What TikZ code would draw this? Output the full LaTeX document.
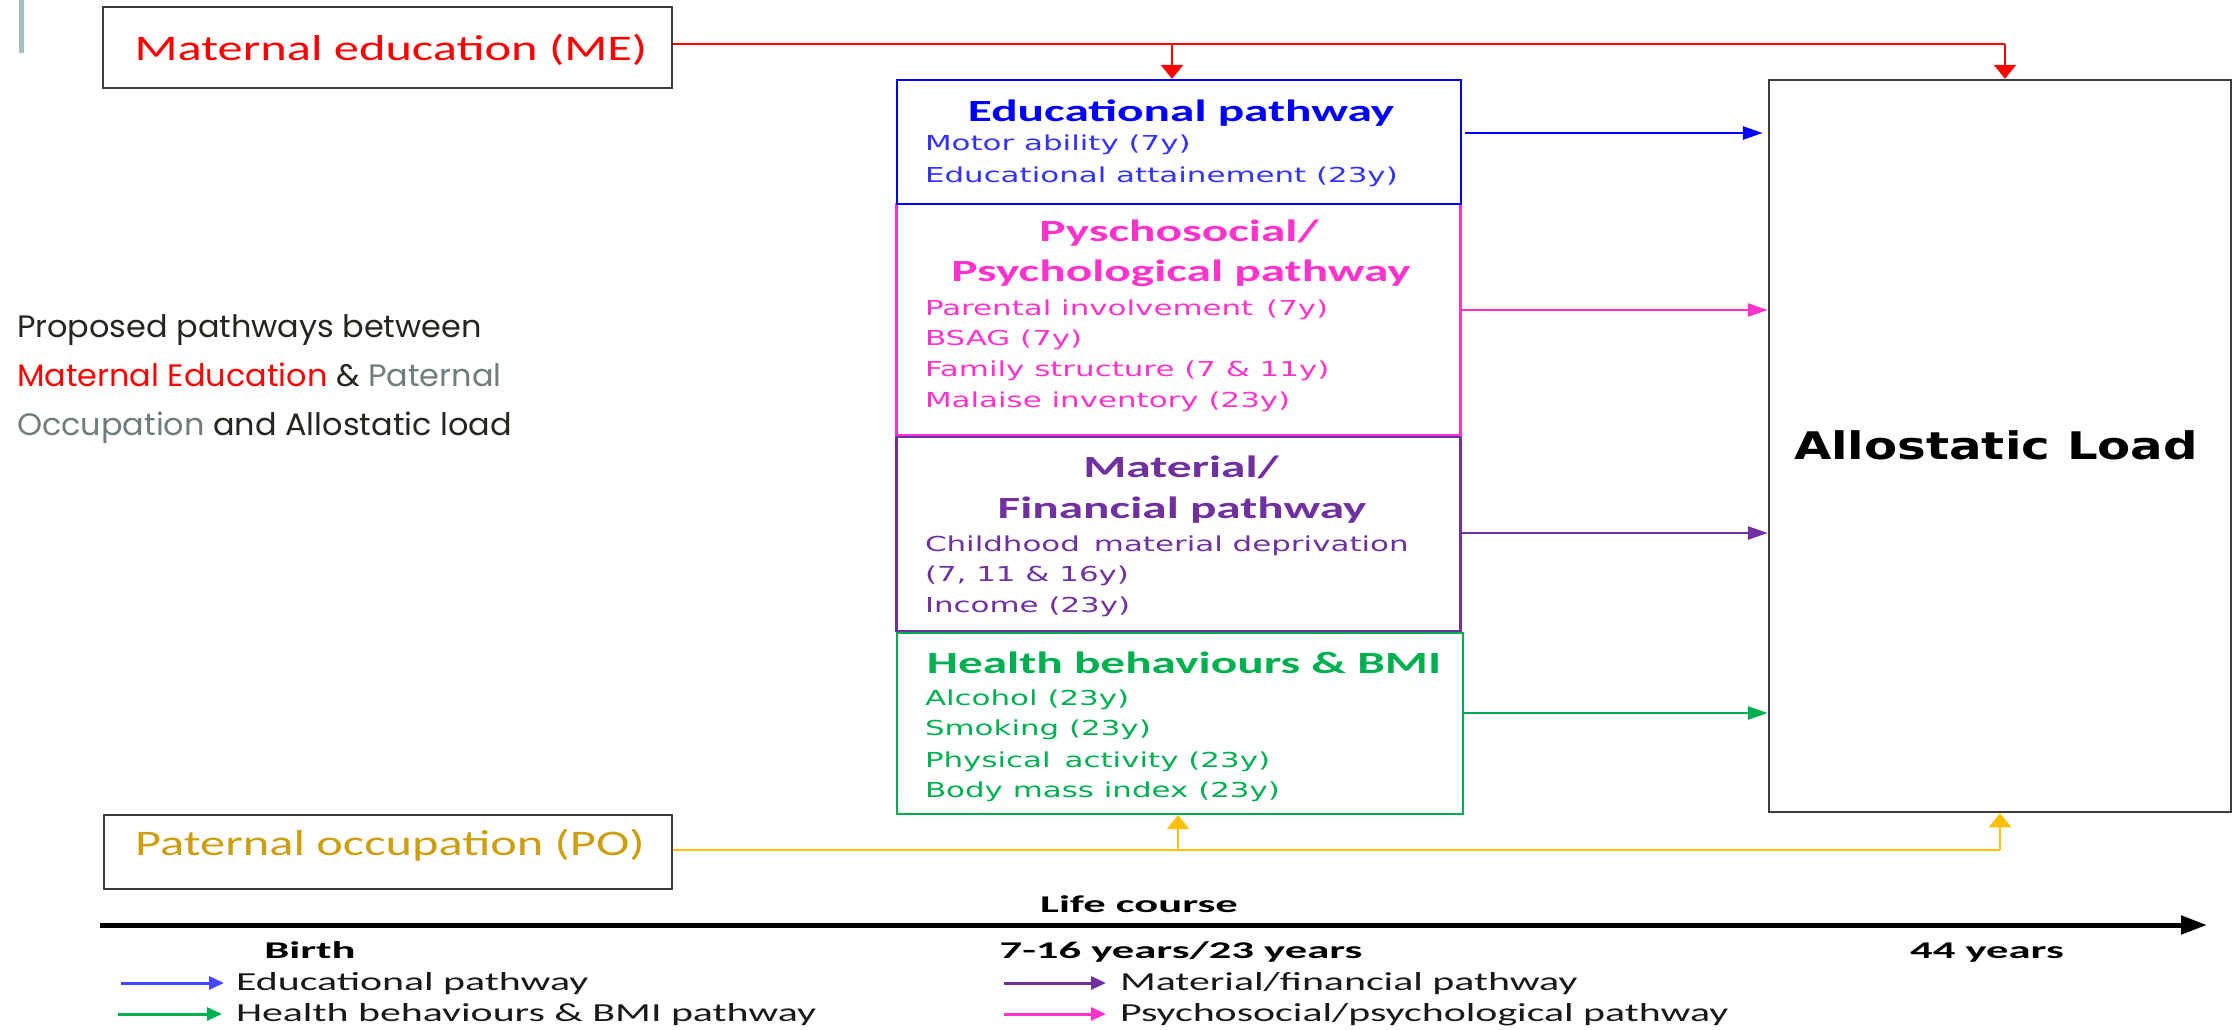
\documentclass[tikz,border=0pt]{standalone}
\usepackage{fontspec}
\usetikzlibrary{arrows.meta}

% Font families (widened to the proportions of the layout)
\newfontfamily\srcfont[FakeStretch=1.4]{Carlito}
\newfontfamily\headfont[FakeStretch=1.6]{Carlito}
\newfontfamily\itemfont[FakeStretch=1.5]{DejaVu Sans}
\newfontfamily\alfont[FakeStretch=1.27]{DejaVu Sans}
\newfontfamily\timefont[FakeStretch=1.86]{Carlito}
\newfontfamily\legfont[FakeStretch=1.61]{Carlito}
\newfontfamily\notefont[FakeStretch=1.03]{Poppins}

\definecolor{meRed}{RGB}{255,0,0}
\definecolor{poGold}{RGB}{204,158,16}
\definecolor{poLine}{RGB}{255,192,0}
\definecolor{eduBlue}{RGB}{0,0,255}
\definecolor{eduItem}{RGB}{51,51,255}
\definecolor{psyPink}{RGB}{255,51,204}
\definecolor{matPurple}{RGB}{112,48,160}
\definecolor{hbGreen}{RGB}{0,176,80}
\definecolor{frameGray}{RGB}{60,60,60}
\definecolor{noteDark}{RGB}{38,38,32}
\definecolor{noteGray}{RGB}{110,125,125}
\definecolor{barGray}{RGB}{165,190,190}
\definecolor{legBlue}{RGB}{70,70,255}

\tikzset{
  txt/.style={inner sep=0pt, outer sep=0pt},
  srcbox/.style={draw=frameGray, line width=2.5pt, inner sep=0pt},
  pathbox/.style={draw=#1, line width=2.3pt, inner sep=0pt, minimum width=564pt},
  srctxt/.style={txt, anchor=base, font=\srcfont\fontsize{36}{40}\selectfont},
  headtxt/.style={txt, anchor=base, font=\headfont\bfseries\fontsize{30.8}{34}\selectfont},
  itemtxt/.style={txt, anchor=base west, font=\itemfont\fontsize{20.6}{24}\selectfont},
  timetxt/.style={txt, anchor=base, font=\timefont\bfseries\fontsize{24}{26}\selectfont},
  legtxt/.style={txt, anchor=base west, text=black!90, font=\legfont\fontsize{26}{28}\selectfont},
  notetxt/.style={txt, anchor=base west, text=noteDark, font=\notefont\fontsize{31}{33}\selectfont},
  conn/.style={line width=2.8pt},
  htip/.style={-{Triangle[length=20pt,width=13pt]}},
  vtip/.style={-{Triangle[length=14pt,width=22pt]}},
  legarrow/.style={line width=3pt, -{Triangle[length=15pt,width=13pt]}},
}

\begin{document}
\begin{tikzpicture}[x=1pt,y=-1pt]
\fill[white] (0,0) rectangle (2239,1029);
\useasboundingbox (0,0) rectangle (2239,1029);

% thin bar at the top left edge
\fill[barGray] (19,0) rectangle (24,53);

% side note
\node[notetxt] (note1) at (17,337) {Proposed pathways between};
\node[notetxt] (note2) at (17,386) {\textcolor{meRed}{Maternal Education} \& \textcolor{noteGray}{Paternal}};
\node[notetxt] (note3) at (17,435) {\textcolor{noteGray}{Occupation} and Allostatic load};

% exposures
\node[srcbox, minimum width=569pt, minimum height=81pt] (me) at (387.5,47.5) {};
\node[srctxt, text=meRed] (meT) at (391,60) {Maternal education (ME)};
\node[srcbox, minimum width=568pt, minimum height=74pt] (po) at (388,852) {};
\node[srctxt, text=poGold] (poT) at (390,855) {Paternal occupation (PO)};

% pathway boxes
\node[pathbox=psyPink, minimum height=231pt] (psy) at (1178.5,319.5) {};
\node[pathbox=eduBlue, minimum height=124pt] (edu) at (1179,142) {};
\node[pathbox=matPurple, minimum height=194pt] (mat) at (1178.5,534) {};
\node[pathbox=hbGreen, minimum width=566pt, minimum height=181pt] (hb) at (1180,723.5) {};

% educational pathway
\node[headtxt, text=eduBlue] (eduH) at (1181,121) {Educational pathway};
\node[itemtxt, text=eduItem] (edu1) at (925,150) {Motor ability (7y)};
\node[itemtxt, text=eduItem] (edu2) at (925,182) {Educational attainement (23y)};

% psychosocial pathway
\node[headtxt, text=psyPink] (psyH1) at (1179,241) {Pyschosocial/};
\node[headtxt, text=psyPink] (psyH2) at (1181,281) {Psychological pathway};
\node[itemtxt, text=psyPink] (psy1) at (925,315) {Parental involvement\hspace{0.15em} (7y)};
\node[itemtxt, text=psyPink] (psy2) at (925,345) {BSAG (7y)};
\node[itemtxt, text=psyPink] (psy3) at (925,376) {Family structure (7 \& 11y)};
\node[itemtxt, text=psyPink] (psy4) at (925,407) {Malaise inventory (23y)};

% material pathway
\node[headtxt, text=matPurple] (matH1) at (1181,477) {Material/};
\node[headtxt, text=matPurple] (matH2) at (1182,518) {Financial pathway};
\node[itemtxt, text=matPurple] (mat1) at (925,551) {Childhood\hspace{0.2em} material deprivation};
\node[itemtxt, text=matPurple] (mat2) at (925,581) {(7, 11 \& 16y)};
\node[itemtxt, text=matPurple] (mat3) at (925,612) {Income (23y)};

% health behaviours
\node[headtxt, text=hbGreen] (hbH) at (1184,673) {Health behaviours \& BMI};
\node[itemtxt, text=hbGreen] (hb1) at (925,705) {Alcohol (23y)};
\node[itemtxt, text=hbGreen] (hb2) at (925,735) {Smoking (23y)};
\node[itemtxt, text=hbGreen] (hb3) at (925,767) {Physical\hspace{0.2em} activity (23y)};
\node[itemtxt, text=hbGreen] (hb4) at (925,797) {Body mass index (23y)};

% outcome
\node[srcbox, minimum width=462pt, minimum height=732pt] (al) at (2000,446) {};
\node[txt, anchor=base, font=\alfont\bfseries\fontsize{38}{40}\selectfont] (alT) at (1996,459) {Allostatic Load};

% maternal education connectors
\coordinate (redMid) at (1172,44);
\coordinate (redEnd) at (2005,44);
\draw[conn, meRed] ([yshift=3.5pt]me.east) -- (redEnd);
\draw[conn, meRed, vtip] (redMid) -- (redMid |- edu.north);
\draw[conn, meRed, vtip] (redEnd) -- (redEnd |- al.north);

% paternal occupation connectors
\coordinate (yelMid) at (1178,850);
\coordinate (yelEnd) at (2000,850);
\draw[conn, poLine] ([yshift=2pt]po.east) -- (yelEnd);
\draw[conn, poLine, vtip] (yelMid) -- (yelMid |- hb.south);
\draw[conn, poLine, vtip] (yelEnd) -- (yelEnd |- al.south);

% pathway arrows into the outcome
\coordinate (eduOut) at ([xshift=3pt,yshift=9pt]edu.east);
\coordinate (psyOut) at ([xshift=-3pt,yshift=9.5pt]psy.east);
\coordinate (matOut) at ([yshift=1pt]mat.east);
\coordinate (hbOut) at ([yshift=10.5pt]hb.east);
\coordinate (alIn) at ([xshift=-5pt]al.west);
\draw[conn, eduBlue, htip] (eduOut) -- (eduOut -| alIn);
\draw[conn, psyPink, htip] (psyOut) -- (psyOut -| al.west);
\draw[conn, matPurple, htip] (matOut) -- (matOut -| al.west);
\draw[conn, hbGreen, htip] (hbOut) -- (hbOut -| al.west);

% life course axis
\coordinate (lcStart) at (100,925);
\coordinate (lcEnd) at (2207,925);
\draw[line width=5pt, -{Triangle[length=26pt,width=18pt]}] (lcStart) -- (lcEnd);
\node[timetxt] (lcT) at (1139,912) {Life course};
\node[timetxt] (birth) at (310,958) {Birth};
\node[timetxt] (mid) at (1181,958) {7-16 years/23 years};
\node[timetxt] (end) at (1987,958) {44 years};

% legend
\node[legtxt] (lgEdu) at (236,990) {Educational pathway};
\node[legtxt] (lgHb) at (236,1021) {Health behaviours \& BMI pathway};
\node[legtxt] (lgMat) at (1120,990) {Material/financial pathway};
\node[legtxt] (lgPsy) at (1120,1021) {Psychosocial/psychological pathway};
\coordinate (lgEduS) at (121,983);
\coordinate (lgHbS) at (118,1014);
\coordinate (lgMatS) at (1004,983);
\coordinate (lgPsyS) at (1004,1014);
\coordinate (lgEduE) at ([xshift=-12pt]lgEdu.west);
\coordinate (lgHbE) at ([xshift=-14pt]lgHb.west);
\coordinate (lgMatE) at ([xshift=-14pt]lgMat.west);
\coordinate (lgPsyE) at ([xshift=-14pt]lgPsy.west);
\draw[legarrow, legBlue] (lgEduS) -- (lgEduS -| lgEduE);
\draw[legarrow, hbGreen] (lgHbS) -- (lgHbS -| lgHbE);
\draw[legarrow, matPurple] (lgMatS) -- (lgMatS -| lgMatE);
\draw[legarrow, psyPink] (lgPsyS) -- (lgPsyS -| lgPsyE);
\end{tikzpicture}
\end{document}
